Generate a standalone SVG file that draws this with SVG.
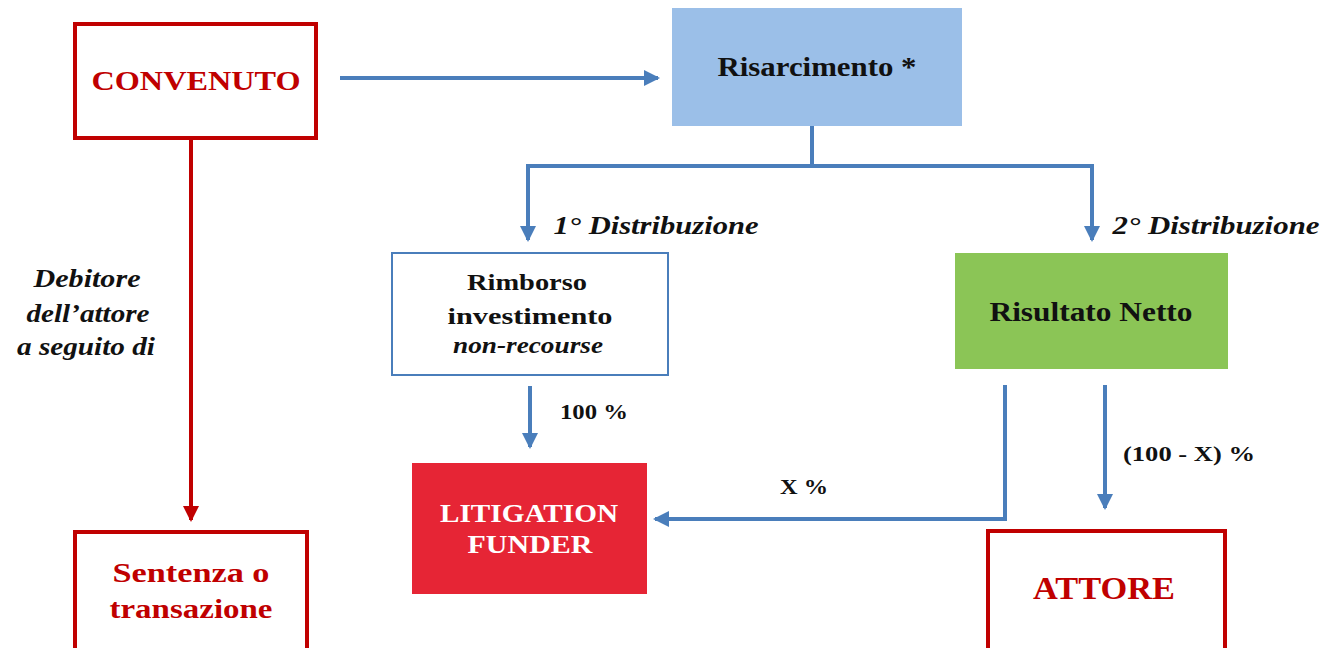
<svg xmlns="http://www.w3.org/2000/svg" width="1331" height="648" viewBox="0 0 1331 648">
<defs>
<style>
.t{font-family:"Liberation Serif","Times New Roman",serif;font-weight:bold;text-anchor:middle}
.red{fill:#C00000}
.blk{fill:#111}
.it{font-style:italic}
.conn{stroke:#4A7EBB;stroke-width:4;fill:none}
.redline{stroke:#C00000;stroke-width:4;fill:none}
</style>
<marker id="ab" markerUnits="userSpaceOnUse" markerWidth="16" markerHeight="16" refX="14" refY="8" orient="auto">
<path d="M0,0 L16,8 L0,16 Z" fill="#4A7EBB"/>
</marker>
<marker id="ar" markerUnits="userSpaceOnUse" markerWidth="16" markerHeight="16" refX="14" refY="8" orient="auto">
<path d="M0,0 L16,8 L0,16 Z" fill="#C00000"/>
</marker>
</defs>
<rect width="1331" height="648" fill="#fff"/>
<g id="connectors">
<path class="conn" d="M340,78 H658" marker-end="url(#ab)"/>
<path class="conn" d="M812,126 V166 H528 V240" marker-end="url(#ab)"/>
<path class="conn" d="M812,166 H1092 V240" marker-end="url(#ab)"/>
<path class="conn" d="M530,386 V447" marker-end="url(#ab)"/>
<path class="conn" d="M1005,385 V519 H655" marker-end="url(#ab)"/>
<path class="conn" d="M1105,385 V508" marker-end="url(#ab)"/>
<path class="redline" d="M191,139 V520" marker-end="url(#ar)"/>
</g>
<g id="labels">
<text class="t it blk" x="656" y="234" font-size="26" textLength="205" lengthAdjust="spacingAndGlyphs">1° Distribuzione</text>
<text class="t it blk" x="1216" y="234" font-size="26" textLength="207" lengthAdjust="spacingAndGlyphs">2° Distribuzione</text>
<text class="t blk" x="594" y="419" font-size="22" textLength="68" lengthAdjust="spacingAndGlyphs">100 %</text>
<text class="t blk" x="804" y="494" font-size="22" textLength="48" lengthAdjust="spacingAndGlyphs">X %</text>
<text class="t blk" x="1189" y="461" font-size="22" textLength="132" lengthAdjust="spacingAndGlyphs">(100 - X) %</text>
<text class="t it blk" x="87" y="287" font-size="25" textLength="107" lengthAdjust="spacingAndGlyphs">Debitore</text>
<text class="t it blk" x="88" y="322" font-size="25" textLength="123" lengthAdjust="spacingAndGlyphs">dell’attore</text>
<text class="t it blk" x="86" y="355" font-size="25" textLength="138" lengthAdjust="spacingAndGlyphs">a seguito di</text>
</g>
<g id="convenuto">
<rect x="75" y="24" width="241" height="114" fill="#fff" stroke="#C00000" stroke-width="4"/>
<text class="t red" x="196" y="90" font-size="28" textLength="209" lengthAdjust="spacingAndGlyphs">CONVENUTO</text>
</g>
<g id="risarcimento">
<rect x="672" y="8" width="290" height="118" fill="#9BBFE8"/>
<text class="t blk" x="817" y="76" font-size="27" textLength="199" lengthAdjust="spacingAndGlyphs">Risarcimento *</text>
</g>
<g id="rimborso">
<rect x="392" y="253" width="276" height="122" fill="#fff" stroke="#4A7EBB" stroke-width="2"/>
<text class="t blk" x="527" y="290" font-size="24" textLength="120" lengthAdjust="spacingAndGlyphs">Rimborso</text>
<text class="t blk" x="530" y="324" font-size="24" textLength="165" lengthAdjust="spacingAndGlyphs">investimento</text>
<text class="t it blk" x="528" y="353" font-size="24" textLength="150" lengthAdjust="spacingAndGlyphs">non-recourse</text>
</g>
<g id="risultato">
<rect x="955" y="253" width="273" height="116" fill="#8BC556"/>
<text class="t blk" x="1091" y="321" font-size="27" textLength="203" lengthAdjust="spacingAndGlyphs">Risultato Netto</text>
</g>
<g id="funder">
<rect x="412" y="463" width="235" height="131" fill="#E62535"/>
<text class="t" fill="#fff" x="529" y="522" font-size="26" textLength="178" lengthAdjust="spacingAndGlyphs">LITIGATION</text>
<text class="t" fill="#fff" x="530" y="553" font-size="26" textLength="125" lengthAdjust="spacingAndGlyphs">FUNDER</text>
</g>
<g id="sentenza">
<rect x="75" y="532" width="232" height="130" fill="#fff" stroke="#C00000" stroke-width="4"/>
<text class="t red" x="191" y="582" font-size="27" textLength="157" lengthAdjust="spacingAndGlyphs">Sentenza o</text>
<text class="t red" x="191" y="618" font-size="27" textLength="163" lengthAdjust="spacingAndGlyphs">transazione</text>
</g>
<g id="attore">
<rect x="988" y="531" width="237" height="130" fill="#fff" stroke="#C00000" stroke-width="4"/>
<text class="t red" x="1104" y="599" font-size="31" textLength="142" lengthAdjust="spacingAndGlyphs">ATTORE</text>
</g>
</svg>
